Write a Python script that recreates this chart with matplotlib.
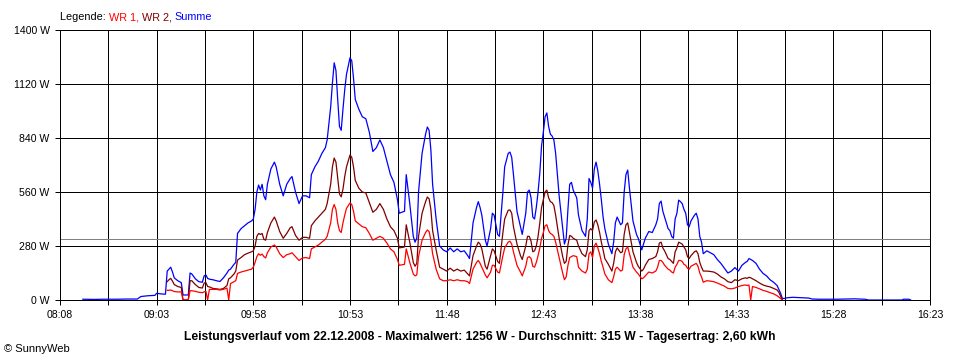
import matplotlib
matplotlib.use("Agg")
import matplotlib.pyplot as plt
import numpy as np

# ---------------- data ----------------
times = [
    "08:21", "08:27", "08:33", "08:40", "08:46", "08:52", "08:54", "08:58", "09:02", "09:03", "09:05", "09:08",
    "09:09", "09:10", "09:11", "09:12", "09:13", "09:15", "09:17", "09:18", "09:21", "09:22", "09:23", "09:25",
    "09:27", "09:29", "09:30", "09:31", "09:32", "09:33", "09:35", "09:37", "09:39", "09:41", "09:43", "09:44",
    "09:45", "09:47", "09:48", "09:49", "09:51", "09:53", "09:55", "09:57", "09:58", "09:59",
    "10:00", "10:01", "10:02", "10:03", "10:04", "10:05", "10:06", "10:08", "10:10", "10:11", "10:13", "10:15",
    "10:17", "10:19", "10:20", "10:22", "10:24", "10:26", "10:28", "10:30", "10:31", "10:33", "10:35", "10:37",
    "10:39", "10:40", "10:42", "10:43", "10:44", "10:45", "10:46", "10:47", "10:48", "10:49", "10:50", "10:51",
    "10:53", "10:54", "10:55", "10:56", "10:58",
    "11:00", "11:02", "11:04", "11:06", "11:08", "11:10", "11:12", "11:14", "11:16", "11:18", "11:20", "11:21",
    "11:24", "11:25", "11:27", "11:29", "11:30", "11:31", "11:32", "11:34", "11:36", "11:37", "11:38", "11:39",
    "11:40", "11:42", "11:44", "11:46", "11:48", "11:50", "11:52", "11:54", "11:56", "11:58",
    "12:00", "12:01", "12:03", "12:05", "12:06", "12:07", "12:08", "12:10", "12:11", "12:13", "12:14", "12:15",
    "12:17", "12:18", "12:20", "12:21", "12:23", "12:24", "12:25", "12:26", "12:28", "12:30", "12:31", "12:33",
    "12:34", "12:35", "12:36", "12:37", "12:38", "12:39", "12:40", "12:41", "12:42", "12:43", "12:44", "12:45",
    "12:46", "12:47", "12:48", "12:49", "12:50", "12:51", "12:52", "12:54", "12:55", "12:56", "12:57", "12:58",
    "12:59",
    "13:00", "13:02", "13:03", "13:05", "13:07", "13:08", "13:09", "13:10", "13:11", "13:12", "13:13", "13:14",
    "13:15", "13:16", "13:17", "13:18", "13:20", "13:22", "13:23", "13:24", "13:25", "13:27", "13:28", "13:29",
    "13:30", "13:31", "13:32", "13:34", "13:36", "13:37", "13:39", "13:40", "13:41", "13:43", "13:45", "13:47",
    "13:48", "13:49", "13:50", "13:51", "13:52", "13:54", "13:55", "13:56", "13:57", "13:58", "13:59",
    "14:00", "14:01", "14:02", "14:03", "14:04", "14:05", "14:06", "14:07", "14:09", "14:10", "14:11", "14:12",
    "14:13", "14:14", "14:16", "14:18", "14:20", "14:22", "14:24", "14:26", "14:28", "14:30", "14:32", "14:34",
    "14:36", "14:38", "14:39", "14:40", "14:41", "14:42", "14:44", "14:46", "14:48", "14:50", "14:52", "14:54",
    "14:56", "14:57", "14:58", "14:59",
    "15:00", "15:02", "15:05", "15:10", "15:14", "15:16", "15:20", "15:30", "15:40", "15:46", "15:48",
    "16:07", "16:08", "16:11", "16:12",
]

summe = [
    4, 3, 4, 4, 5, 5, 18, 22, 24, 35, 32, 30,
    150, 160, 170, 145, 115, 100, 90, 26, 26, 140, 135, 110,
    95, 92, 125, 130, 112, 108, 105, 100, 96, 115, 140, 155,
    160, 185, 195, 345, 370, 385, 400, 410, 420, 470,
    560, 596, 570, 600, 540, 520, 600, 680, 715, 690, 600, 540,
    600, 630, 640, 560, 500, 540, 540, 530, 650, 690, 720, 760,
    790, 830, 1000, 1125, 1230, 1190, 1040, 900, 880, 990, 1090, 1170,
    1256, 1240, 1150, 1040, 990,
    950, 940, 870, 770, 790, 830, 790, 720, 650, 610, 520, 450,
    460, 650, 500, 330, 300, 320, 560, 760, 860, 897, 880, 780,
    600, 420, 280, 260, 250, 270, 250, 265, 250, 255,
    230, 215, 400, 480, 510, 480, 440, 310, 280, 370, 450, 440,
    340, 330, 560, 690, 760, 767, 740, 650, 460, 380, 340, 450,
    560, 570, 530, 430, 420, 480, 560, 660, 800, 870, 950, 970,
    900, 860, 850, 830, 760, 650, 540, 370, 290, 320, 470, 600,
    610,
    570, 530, 440, 360, 330, 420, 630, 610, 580, 680, 715, 670,
    600, 520, 430, 370, 290, 240, 300, 400, 430, 390, 400, 560,
    650, 674, 580, 410, 340, 320, 260, 290, 320, 355, 350, 390,
    420, 500, 513, 460, 430, 370, 360, 330, 320, 420, 450,
    518, 510, 500, 470, 450, 390, 380, 410, 440, 450, 420, 330,
    300, 240, 255, 245, 235, 210, 190, 165, 140, 150, 168, 150,
    180, 195, 200, 215, 210, 205, 190, 160, 138, 125, 105, 92,
    75, 55, 35, 8,
    8, 12, 14, 12, 10, 5, 4, 4, 6, 4, 0,
    0, 4, 4, 0,
]

wr2 = [
    None, None, None, None, None, None, None, None, None, None, None, None,
    95, 105, 112, 98, 80, 70, 65, 0, 0, 100, 100, 80,
    65, 62, 88, 90, 70, 68, 60, 58, 55, 60, 75, 110,
    115, 135, 150, 207, 220, 235, 243, 250, 255, 280,
    330, 345, 340, 345, 315, 310, 350, 400, 430, 410, 355, 320,
    345, 375, 380, 335, 310, 325, 325, 320, 385, 410, 430, 450,
    470, 500, 600, 690, 736, 715, 630, 550, 535, 575, 640, 690,
    752, 740, 690, 620, 580,
    560, 555, 505, 455, 470, 500, 470, 420, 380, 360, 320, 270,
    275, 390, 300, 195, 175, 190, 330, 450, 510, 534, 525, 470,
    360, 260, 170, 160, 150, 165, 150, 160, 150, 155,
    135, 125, 230, 280, 300, 290, 265, 175, 160, 230, 265, 255,
    200, 190, 350, 420, 465, 467, 450, 380, 290, 230, 210, 280,
    330, 330, 305, 250, 255, 280, 330, 400, 480, 520, 560, 570,
    530, 510, 505, 490, 440, 380, 320, 225, 190, 200, 285, 335,
    330,
    320, 310, 280, 240, 225, 260, 360, 370, 360, 405, 415, 390,
    350, 300, 260, 215, 185, 150, 190, 250, 270, 245, 250, 340,
    390, 400, 350, 250, 195, 175, 150, 160, 180, 210, 215, 225,
    250, 295, 300, 270, 255, 215, 210, 200, 190, 250, 270,
    300, 295, 290, 275, 260, 225, 215, 230, 250, 255, 240, 195,
    170, 150, 150, 148, 145, 135, 120, 110, 95, 90, 105, 100,
    110, 115, 112, 118, 115, 110, 100, 88, 78, 72, 68, 60,
    52, 40, 20, 0,
    None, None, None, None, None, None, None, None, None, None, None,
    None, None, None, None,
]

wr1 = [
    None, None, None, None, None, None, None, None, None, None, None, None,
    50, 50, 52, 48, 44, 42, 42, 0, 0, 48, 48, 45,
    40, 38, 42, 45, 0, 55, 55, 55, 52, 55, 62, 0,
    85, 95, 100, 138, 145, 150, 155, 160, 171, 195,
    225, 240, 232, 238, 225, 218, 245, 275, 285, 275, 240, 220,
    235, 240, 245, 225, 205, 218, 220, 215, 265, 275, 285, 300,
    315, 330, 400, 470, 495, 470, 400, 360, 350, 400, 440, 475,
    503, 495, 460, 410, 395,
    380, 375, 345, 310, 320, 330, 320, 295, 265, 250, 210, 180,
    185, 265, 195, 135, 125, 130, 225, 310, 350, 363, 355, 310,
    240, 160, 110, 100, 100, 105, 100, 105, 100, 100,
    95, 85, 160, 195, 205, 190, 170, 130, 115, 145, 180, 180,
    145, 140, 230, 270, 300, 305, 290, 250, 180, 145, 125, 175,
    220, 225, 215, 175, 170, 195, 230, 270, 320, 350, 385, 390,
    360, 345, 340, 330, 300, 260, 220, 140, 105, 120, 180, 220,
    225,
    230, 225, 170, 150, 140, 160, 240, 250, 220, 280, 295, 270,
    240, 200, 170, 135, 105, 90, 120, 160, 170, 150, 155, 235,
    265, 275, 240, 170, 145, 135, 110, 115, 125, 145, 140, 150,
    170, 205, 205, 195, 180, 160, 155, 145, 140, 170, 185,
    205, 205, 200, 185, 180, 165, 160, 175, 185, 190, 175, 140,
    120, 92, 100, 98, 95, 88, 80, 72, 60, 58, 62, 70,
    75, 78, 75, 78, 0, 70, 65, 58, 50, 45, 38, 32,
    22, 15, 8, 0,
    None, None, None, None, None, None, None, None, None, None, None,
    None, None, None, None,
]

x_tick_labels = ["08:08", "09:03", "09:58", "10:53", "11:48", "12:43", "13:38", "14:33", "15:28", "16:23"]
y_ticks = [0, 280, 560, 840, 1120, 1400]
average_w = 315

legend_parts = [("Legende: ", "#000000"), ("WR 1, ", "#FF0000"), ("WR 2, ", "#800000"), ("Summe", "#0000FF")]
footer = ("Leistungsverlauf vom 22.12.2008 - Maximalwert: 1256 W - "
          "Durchschnitt: 315 W - Tagesertrag: 2,60 kWh")
copyright_txt = "\u00a9 SunnyWeb"

# ---------------- drawing ----------------
plt.rcParams['font.family'] = ['Liberation Sans', 'DejaVu Sans']


def to_min(s):
    h, m = s.split(":")
    return int(h) * 60 + int(m)


t = np.array([to_min(s) for s in times], dtype=float)
s_arr = np.array(summe, dtype=float)
w1_arr = np.array(wr1, dtype=float)
w2_arr = np.array(wr2, dtype=float)

W, H = 960, 360
fig = plt.figure(figsize=(W / 100, H / 100), dpi=100)
fig.patch.set_facecolor("white")
ax = fig.add_axes([60 / W, 1 - 300 / H, 870 / W, 270 / H])

major = [to_min(s) for s in x_tick_labels]
minor = [(a + b) / 2 for a, b in zip(major[:-1], major[1:])]
ax.set_xlim(major[0], major[-1])
ax.set_ylim(0, 1400)

ax.set_xticks(major)
ax.set_xticklabels(x_tick_labels)
ax.set_xticks(minor, minor=True)
ax.set_yticks(y_ticks)
ax.set_yticklabels([f"{v} W" for v in y_ticks])

lw_px = 0.72
for v in major + minor:
    ax.axvline(v, color="black", lw=lw_px, zorder=1)
for v in y_ticks:
    ax.axhline(v, color="black", lw=lw_px, zorder=1)
ax.axhline(average_w, color="#808080", lw=lw_px, zorder=1.2)

ax.plot(t, s_arr, color="#0000FF", lw=0.9, zorder=2)
ax.plot(t, w2_arr, color="#800000", lw=0.9, zorder=2.1)
ax.plot(t, w1_arr, color="#FF0000", lw=0.9, zorder=2.2)

for sp in ax.spines.values():
    sp.set_color("black")
    sp.set_linewidth(lw_px)
    sp.set_zorder(3)

ax.tick_params(axis="both", which="both", direction="out", length=3.5, width=lw_px,
               color="black", labelsize=7.6, labelcolor="black")
ax.tick_params(axis="x", pad=4)
ax.tick_params(axis="y", pad=4)

# footer texts
fig.text(480 / W, 1 - 337 / H, footer, ha="center", va="center",
         fontsize=8.7, fontweight="bold", color="black")
fig.text(4 / W, 1 - 349 / H, copyright_txt, ha="left", va="center",
         fontsize=8, color="black")

# multi-coloured legend line
fig.canvas.draw()
renderer = fig.canvas.get_renderer()
x_px = 60.0
for txt, col in legend_parts:
    tt = fig.text(x_px / W, 1 - 17 / H, txt, ha="left", va="center", fontsize=7.8, color=col)
    bb = tt.get_window_extent(renderer=renderer)
    x_px = bb.x1

fig.savefig("out.png", dpi=100, facecolor="white")
